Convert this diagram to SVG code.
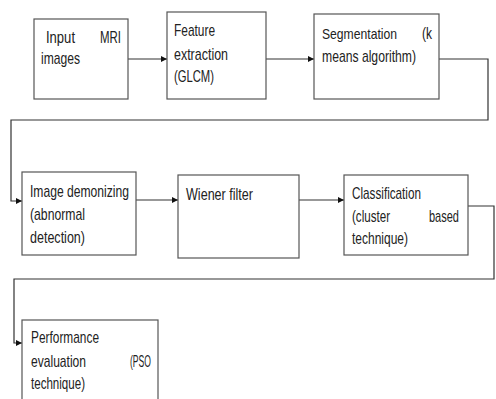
<svg xmlns="http://www.w3.org/2000/svg" width="496" height="399" viewBox="0 0 496 399">
<defs>
<style>
.box{fill:#fff;stroke:#555;stroke-width:1.2}
.ln{fill:none;stroke:#333;stroke-width:1.2}
text{font-family:"Liberation Sans Narrow","Liberation Sans",Arial,sans-serif;font-size:17px;fill:#222}
.sm{font-size:15px}
</style>
<marker id="ah" markerWidth="6" markerHeight="6" refX="6" refY="3" orient="auto" markerUnits="userSpaceOnUse">
<path d="M0,0 L6,3 L0,6 Z" fill="#111"/>
</marker>
</defs>
<rect width="496" height="399" fill="#fff"/>
<g id="connectors">
<path class="ln" d="M128,59 H167" marker-end="url(#ah)"/>
<path class="ln" d="M266,59 H314" marker-end="url(#ah)"/>
<path class="ln" d="M439,59 H488 V120 H11 V201 H22" marker-end="url(#ah)"/>
<path class="ln" d="M136,200 H178" marker-end="url(#ah)"/>
<path class="ln" d="M299,200 H344" marker-end="url(#ah)"/>
<path class="ln" d="M468,206 H494 V279 H14 V343 H22" marker-end="url(#ah)"/>
</g>
<g id="n1">
<rect class="box" x="34" y="19" width="94" height="80"/>
<text x="46" y="43" textLength="29" lengthAdjust="spacingAndGlyphs">Input</text>
<text x="100" y="43" textLength="21" lengthAdjust="spacingAndGlyphs">MRI</text>
<text x="41" y="64" textLength="39" lengthAdjust="spacingAndGlyphs">images</text>
</g>
<g id="n2">
<rect class="box" x="167" y="12" width="99" height="87"/>
<text x="174" y="36" textLength="41" lengthAdjust="spacingAndGlyphs">Feature</text>
<text x="174" y="60" textLength="54" lengthAdjust="spacingAndGlyphs">extraction</text>
<text x="174" y="82" textLength="40" lengthAdjust="spacingAndGlyphs">(GLCM)</text>
</g>
<g id="n3">
<rect class="box" x="314" y="14" width="125" height="85"/>
<text class="sm" x="322" y="39" textLength="75" lengthAdjust="spacingAndGlyphs">Segmentation</text>
<text x="422" y="39" textLength="10" lengthAdjust="spacingAndGlyphs">(k</text>
<text x="322" y="62" textLength="94" lengthAdjust="spacingAndGlyphs">means algorithm)</text>
</g>
<g id="n4">
<rect class="box" x="22" y="172" width="114" height="83"/>
<text x="30" y="197" textLength="99" lengthAdjust="spacingAndGlyphs">Image demonizing</text>
<text x="30" y="220" textLength="55" lengthAdjust="spacingAndGlyphs">(abnormal</text>
<text x="30" y="243" textLength="55" lengthAdjust="spacingAndGlyphs">detection)</text>
</g>
<g id="n5">
<rect class="box" x="178" y="175" width="121" height="83"/>
<text x="186" y="200" textLength="67" lengthAdjust="spacingAndGlyphs">Wiener filter</text>
</g>
<g id="n6">
<rect class="box" x="344" y="175" width="124" height="80"/>
<text x="352" y="199" textLength="69" lengthAdjust="spacingAndGlyphs">Classification</text>
<text x="352" y="222" textLength="38" lengthAdjust="spacingAndGlyphs">(cluster</text>
<text x="429" y="222" textLength="30" lengthAdjust="spacingAndGlyphs">based</text>
<text x="352" y="244" textLength="56" lengthAdjust="spacingAndGlyphs">technique)</text>
</g>
<g id="n7">
<rect class="box" x="22" y="320" width="136" height="95"/>
<text x="31" y="343" textLength="68" lengthAdjust="spacingAndGlyphs">Performance</text>
<text x="31" y="367" textLength="55" lengthAdjust="spacingAndGlyphs">evaluation</text>
<text x="130" y="367" textLength="21" lengthAdjust="spacingAndGlyphs">(PSO</text>
<text x="31" y="389" textLength="54" lengthAdjust="spacingAndGlyphs">technique)</text>
</g>
</svg>
